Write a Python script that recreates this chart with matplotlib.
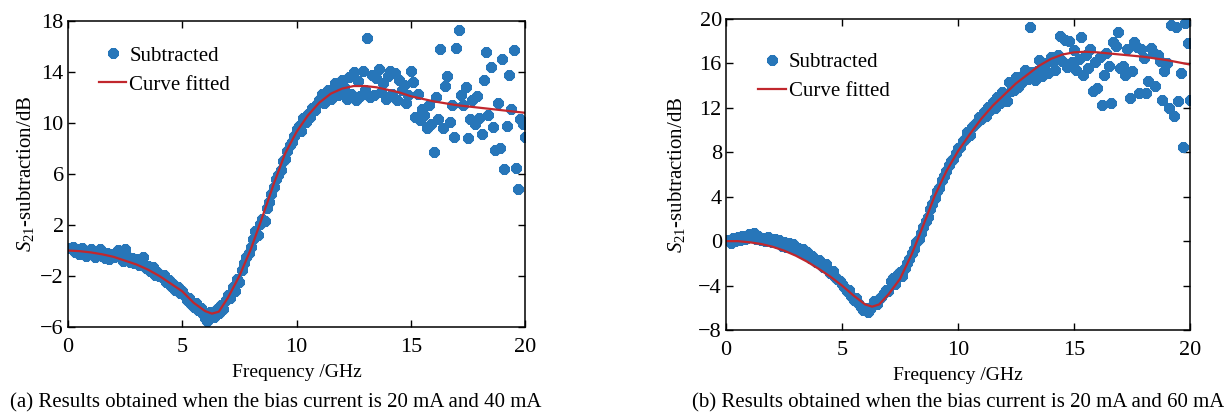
import numpy as np
import matplotlib.pyplot as plt

plt.rcParams['font.family'] = ['Liberation Serif', 'DejaVu Serif']
plt.rcParams['mathtext.fontset'] = 'custom'
plt.rcParams['mathtext.rm'] = 'Liberation Serif'
plt.rcParams['mathtext.it'] = 'Liberation Serif:italic'

# frequency sweep, GHz (0.1 ... 20.0)
freq = np.round(np.arange(1, 201) * 0.1, 1)

# (a) bias 20 mA / 40 mA, measured points
sub_a = [
    0.2, 0.3, -0.1, 0.1, -0.3, 0.2, 0.0, -0.4, -0.2, 0.1,
    -0.1, -0.5, -0.3, 0.1, -0.4, -0.6, -0.2, -0.7, -0.3, -0.5,
    -0.3, 0.0, -0.6, -0.8, 0.1, -0.4, -0.9, -0.6, -1.0, -0.7,
    -1.1, -0.9, -0.5, -1.4, -1.2, -1.6, -1.3, -1.9, -1.7, -2.0,
    -2.1, -1.9, -2.5, -2.3, -2.8, -2.6, -3.1, -2.9, -3.3, -3.2,
    -3.6, -3.9, -3.7, -4.2, -4.4, -4.1, -4.7, -4.5, -5.0, -5.3,
    -5.5, -4.8, -5.1, -5.2, -4.6, -4.9, -4.3, -4.6, -3.9, -3.5,
    -3.7, -2.9, -3.2, -2.2, -2.5, -1.5, -1.0, -0.5, -0.2, 0.3,
    0.9, 1.5, 1.2, 2.1, 2.5, 2.3, 3.3, 3.8, 4.4, 5.0,
    5.6, 5.9, 6.3, 7.0, 7.2, 7.8, 8.3, 8.5, 9.0, 9.5,
    9.8, 9.4, 10.4, 10.1, 10.7, 10.5, 11.2, 11.0, 11.5, 11.8,
    12.3, 11.6, 12.0, 12.6, 11.9, 12.4, 13.1, 12.2, 12.5, 13.4,
    12.8, 11.9, 13.6, 12.3, 14.0, 11.8, 13.3, 12.1, 14.1, 12.6,
    16.7, 12.0, 13.8, 12.2, 13.5, 14.2, 12.4, 13.1, 11.9, 13.7,
    14.1, 12.3, 13.9, 11.8, 13.4, 12.6, 13.0, 11.6, 12.2, 14.1,
    13.2, 10.5, 12.3, 10.2, 11.1, 10.6, 9.6, 11.4, 9.9, 7.7,
    12.0, 10.3, 15.8, 9.6, 12.9, 13.7, 10.1, 11.4, 8.9, 15.9,
    17.3, 12.2, 11.4, 12.8, 8.8, 10.3, 11.8, 9.9, 12.1, 10.4,
    9.1, 13.4, 15.6, 10.6, 14.4, 9.7, 7.9, 11.6, 8.0, 15.0,
    6.4, 9.8, 13.8, 11.1, 15.7, 6.5, 4.8, 10.3, 9.9, 8.9,
]

# (a) fitted curve
fit_fa = [0, 0.5, 1, 1.5, 2, 2.5, 3, 3.5, 4, 4.5, 5, 5.5, 6, 6.3, 6.6, 7, 7.5,
          8, 8.5, 9, 9.5, 10, 10.5, 11, 11.5, 12, 12.5, 13, 13.5, 14, 14.5,
          15, 16, 17, 18, 19, 20]
fit_a = [0.0, -0.05, -0.15, -0.3, -0.5, -0.8, -1.1, -1.5, -2.0, -2.6, -3.2,
         -4.1, -4.75, -4.95, -4.8, -3.7, -2.0, 0.1, 2.6, 5.2, 7.6, 9.3, 10.6,
         11.6, 12.3, 12.7, 12.9, 12.9, 12.8, 12.6, 12.4, 12.1, 11.7, 11.4,
         11.2, 11.0, 10.8]

# (b) bias 20 mA / 60 mA, measured points
sub_b = [
    0.1, -0.2, 0.3, 0.0, 0.4, 0.1, 0.5, 0.2, 0.3, 0.6,
    0.4, 0.7, 0.2, 0.5, 0.1, 0.3, 0.0, 0.4, 0.2, -0.1,
    0.2, -0.2, 0.1, -0.4, -0.1, -0.5, -0.2, -0.6, -0.3, -0.8,
    -0.6, -0.9, -0.7, -1.2, -1.0, -1.5, -1.3, -1.6, -1.9, -1.7,
    -2.0, -2.3, -2.1, -2.6, -2.9, -2.7, -3.2, -3.4, -3.6, -3.9,
    -4.1, -4.5, -4.4, -4.9, -5.3, -5.1, -5.6, -5.9, -6.2, -6.0,
    -6.4, -6.1, -5.8, -5.4, -5.7, -5.2, -5.0, -4.7, -4.4, -4.5,
    -3.6, -3.3, -3.9, -3.0, -2.8, -3.1, -2.4, -2.0, -1.6, -1.1,
    -0.7, -0.1, 0.2, 0.7, 1.3, 1.8, 2.2, 2.9, 3.3, 3.9,
    4.5, 4.8, 5.5, 5.9, 6.3, 6.9, 7.2, 7.4, 7.9, 8.4,
    8.5, 9.0, 9.2, 9.8, 9.6, 10.3, 10.5, 10.7, 11.2, 11.0,
    11.6, 11.3, 12.1, 11.8, 12.5, 12.0, 13.0, 12.4, 13.4, 13.1,
    12.6, 14.3, 13.5, 13.6, 14.8, 13.9, 14.2, 15.0, 15.4, 14.6,
    19.3, 15.2, 14.5, 15.3, 16.3, 14.9, 15.6, 16.0, 15.1, 16.6,
    16.2, 15.4, 16.8, 18.5, 16.2, 18.1, 15.7, 18.0, 16.1, 17.2,
    15.4, 16.4, 18.4, 15.0, 16.8, 15.6, 17.3, 13.5, 16.1, 13.8,
    16.6, 12.3, 15.0, 16.9, 15.8, 12.4, 17.9, 17.6, 18.8, 15.6,
    15.8, 15.0, 17.3, 12.9, 15.3, 17.9, 17.5, 13.3, 17.3, 16.5,
    13.3, 14.4, 17.4, 17.0, 14.0, 16.8, 16.2, 12.7, 15.3, 16.0,
    12.0, 19.5, 11.3, 19.3, 12.6, 15.1, 8.5, 19.6, 17.8, 12.7,
]

# (b) fitted curve
fit_fb = [0, 0.5, 1, 1.5, 2, 2.5, 3, 3.5, 4, 4.5, 5, 5.5, 6, 6.3, 6.6, 7, 7.5,
          8, 8.5, 9, 9.5, 10, 10.5, 11, 11.5, 12, 12.5, 13, 13.5, 14, 14.5,
          15, 15.5, 16, 17, 18, 19, 20]
fit_b = [0.0, 0.0, -0.1, -0.25, -0.5, -0.85, -1.3, -1.85, -2.5, -3.2, -4.0,
         -4.9, -5.7, -5.9, -5.7, -4.8, -3.4, -1.2, 1.4, 4.1, 6.3, 8.1, 9.6,
         11.0, 12.2, 13.2, 14.2, 15.0, 15.8, 16.4, 16.8, 17.0, 17.05, 17.0,
         16.8, 16.6, 16.3, 15.9]

captions = ['(a) Results obtained when the bias current is 20 mA and 40 mA',
            '(b) Results obtained when the bias current is 20 mA and 60 mA']

blue = '#2776b9'
red = '#c1272d'

fig = plt.figure(figsize=(12.24, 4.15), dpi=100)
ax1 = fig.add_axes([68/1224, 1 - 327/415, 457/1224, 306/415])
ax2 = fig.add_axes([726/1224, 1 - 330/415, 464/1224, 311/415])

panels = [
    (ax1, sub_a, fit_fa, fit_a, (-6, 18), np.arange(-6, 19, 4), 3, (0.068, 0.918)),
    (ax2, sub_b, fit_fb, fit_b, (-8, 20), np.arange(-8, 21, 4), 8, (0.070, 0.893)),
]

for ax, sub, ff, fv, ylim, yt, ypad, anchor in panels:
    ax.plot(freq, sub, linestyle='none', marker=(8, 2, 0), markersize=7.5,
            markeredgewidth=2.8, color=blue, label='Subtracted')
    ax.plot(ff, fv, color=red, lw=1.6, label='Curve fitted')
    ax.set_xlim(0, 20)
    ax.set_ylim(*ylim)
    ax.set_xticks([0, 5, 10, 15, 20])
    ax.set_yticks(yt)
    ax.tick_params(direction='in', top=True, right=True, length=5,
                   width=1, labelsize=16)
    ax.tick_params(axis='x', pad=8)
    ax.tick_params(axis='y', pad=3)
    for s in ax.spines.values():
        s.set_linewidth(1.1)
    ax.set_xlabel('Frequency /GHz', fontsize=14, labelpad=5)
    ax.set_ylabel('$S_{21}$-subtraction/dB', fontsize=15, labelpad=ypad)
    ax.legend(loc='upper left', bbox_to_anchor=anchor, frameon=False,
              fontsize=15, handlelength=1.3, handletextpad=0.15,
              borderaxespad=0, borderpad=0, labelspacing=0.45)

fig.text(276/1224, 1 - 403/415, captions[0], ha='center', va='center',
         fontsize=15)
fig.text(958/1224, 1 - 403/415, captions[1], ha='center', va='center',
         fontsize=15)

fig.savefig('out.png', dpi=100)
